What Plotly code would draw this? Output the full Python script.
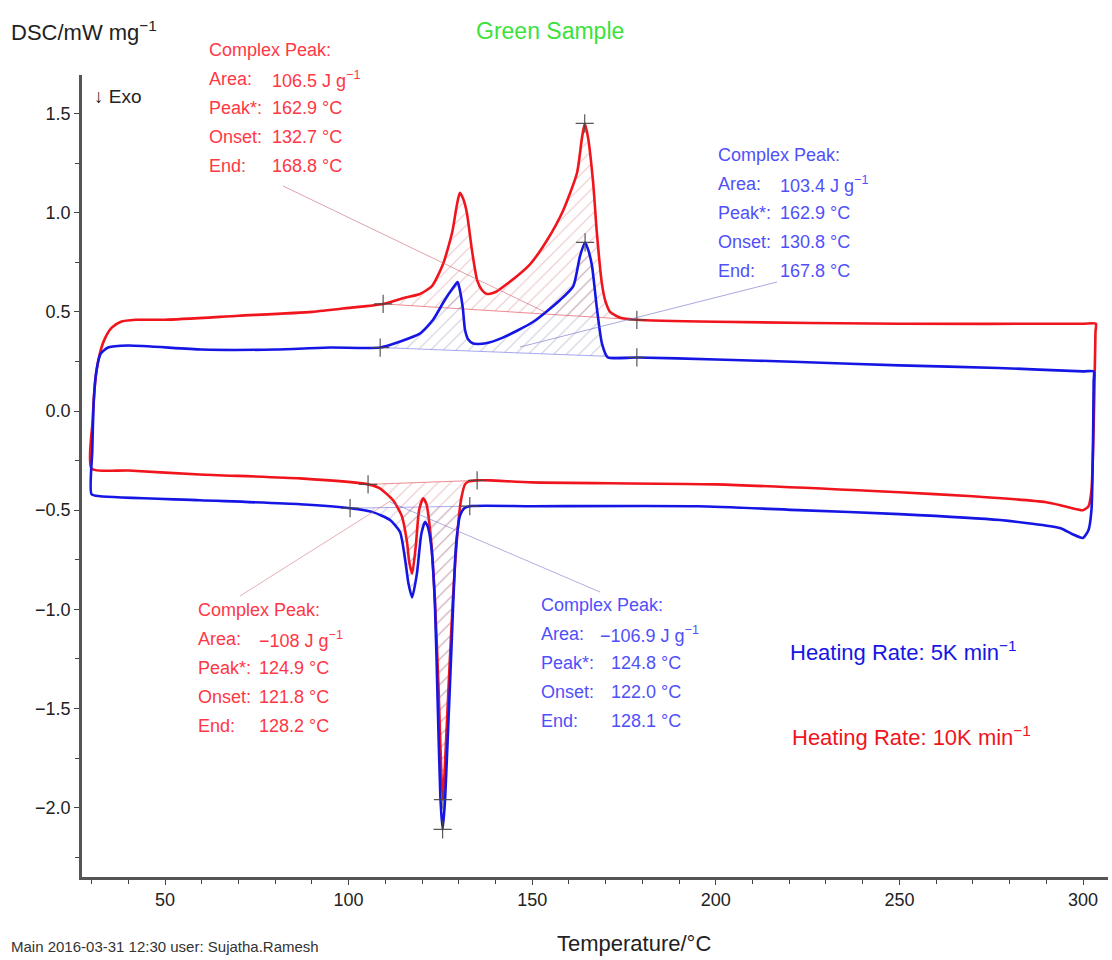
import numpy as np
import plotly.graph_objects as go

# ---------------- data ----------------
red_heat_T = [30.0, 30.3, 31.0, 32.0, 33.5, 35.5, 38.0, 42.0, 50.0, 70.0, 90.0, 100.0, 109.4, 115.0,
              119.4, 122.7, 125.7, 128.2, 129.5, 130.3, 131.2, 132.2, 133.6, 135.0, 136.3, 137.7,
              140.0, 143.1, 149.4, 154.0, 158.4, 162.2, 163.5, 164.3, 165.2, 166.6, 167.6, 169.0,
              170.0, 171.2, 174.0, 178.5, 200.0, 250.0, 300.0, 303.5]
red_heat_v = [-0.29, -0.05, 0.15, 0.27, 0.36, 0.42, 0.45, 0.46, 0.46, 0.48, 0.50, 0.52, 0.54, 0.57,
              0.59, 0.63, 0.74, 0.90, 1.04, 1.10, 1.07, 1.00, 0.81, 0.66, 0.61, 0.59,
              0.60, 0.64, 0.74, 0.86, 1.01, 1.20, 1.37, 1.45, 1.38, 1.15, 0.90, 0.64,
              0.55, 0.50, 0.47, 0.46, 0.45, 0.44, 0.44, 0.44]
red_cool_T = [303.4, 303.0, 302.3, 301.5, 300.0, 295.0, 290.0, 270.0, 250.0, 200.0, 150.0, 138.5,
              135.0, 132.8, 131.7, 130.6, 129.8, 128.4, 127.2, 126.2, 125.7, 125.2, 124.5, 123.5,
              122.3, 121.2, 120.3, 119.2, 118.3, 117.3, 116.5, 115.9, 114.5, 112.1, 108.5, 105.3,
              86.8, 59.5, 40.0, 30.0]
red_cool_v = [0.40, 0.00, -0.40, -0.48, -0.50, -0.48, -0.46, -0.43, -0.41, -0.37, -0.36, -0.35,
              -0.35, -0.355, -0.37, -0.45, -0.58, -0.95, -1.40, -1.80, -1.96, -1.80, -1.40, -0.95,
              -0.62, -0.47, -0.44, -0.50, -0.68, -0.82, -0.76, -0.66, -0.53, -0.45, -0.39, -0.37,
              -0.34, -0.32, -0.30, -0.29]

blue_heat_T = [30.0, 30.2, 30.6, 31.3, 32.5, 34.5, 40.0, 60.0, 80.0, 95.0, 108.6, 114.0, 119.4,
               123.0, 126.2, 128.4, 129.7, 130.4, 131.1, 131.7, 132.6, 133.9, 137.0, 142.0, 150.3,
               157.6, 161.2, 163.0, 164.4, 165.3, 166.3, 167.6, 169.0, 170.6, 178.5, 200.0, 223.0,
               250.0, 277.0, 300.0, 302.9]
blue_heat_v = [-0.42, -0.20, 0.05, 0.20, 0.29, 0.32, 0.33, 0.31, 0.31, 0.32, 0.32, 0.35, 0.39,
               0.46, 0.56, 0.62, 0.65, 0.60, 0.52, 0.41, 0.36, 0.34, 0.34, 0.37, 0.45,
               0.56, 0.63, 0.78, 0.85, 0.81, 0.73, 0.52, 0.34, 0.27, 0.27, 0.26, 0.247,
               0.23, 0.217, 0.20, 0.20]
blue_cool_T = [302.9, 302.7, 302.3, 301.5, 300.0, 297.0, 293.7, 277.4, 250.0, 222.6, 195.0, 150.0,
               133.0, 131.5, 130.3, 129.5, 129.0, 128.0, 127.0, 126.2, 125.6, 125.0, 124.3, 123.5,
               122.5, 121.5, 120.8, 119.8, 118.6, 117.3, 116.3, 115.4, 114.0, 111.3, 106.6, 100.4,
               86.8, 59.5, 32.3, 30.0]
blue_cool_v = [0.15, -0.20, -0.50, -0.60, -0.64, -0.62, -0.59, -0.55, -0.52, -0.50, -0.48, -0.48,
               -0.48, -0.49, -0.53, -0.63, -0.75, -1.20, -1.65, -1.98, -2.11, -1.95, -1.50, -0.97,
               -0.68, -0.58, -0.56, -0.62, -0.82, -0.94, -0.87, -0.75, -0.61, -0.55, -0.51, -0.49,
               -0.47, -0.45, -0.43, -0.42]

# evaluation limits (onset / end markers) in degC
red_heat_lim = [109.4, 178.5]
blue_heat_lim = [108.6, 178.5]
red_cool_lim = [105.3, 135.0]
blue_cool_lim = [100.4, 133.0]

# peak markers
peak_T = [164.3, 164.4, 125.7, 125.6]
peak_v = [1.45, 0.85, -1.96, -2.11]

# text blocks
block_labels = ["Complex Peak:", "Area:", "Peak*:", "Onset:", "End:"]
red_heat_vals = ["", "106.5 J g<sup>−1</sup>", "162.9 °C", "132.7 °C", "168.8 °C"]
blue_heat_vals = ["", "103.4 J g<sup>−1</sup>", "162.9 °C", "130.8 °C", "167.8 °C"]
red_cool_vals = ["", "−108 J g<sup>−1</sup>", "124.9 °C", "121.8 °C", "128.2 °C"]
blue_cool_vals = ["", "−106.9 J g<sup>−1</sup>", "124.8 °C", "122.0 °C", "128.1 °C"]

# ---------------- styling ----------------
RED = "rgb(240,20,28)"
BLUE = "rgb(22,22,228)"
RED_TXT = "rgb(255,55,70)"
BLUE_TXT = "rgb(80,80,250)"
FONT = "Liberation Sans, Arial, sans-serif"
W, H = 1112, 960
L, R, T_, B = 82, 1108, 75, 877
SM = 0.6


def px(x):
    return (x - L) / (R - L)


def py(y):
    return (B - y) / (B - T_)


fig = go.Figure()


def segment(Ts, vs, lim):
    Ts = np.asarray(Ts)
    vs = np.asarray(vs)
    m = (Ts >= lim[0] - 1e-9) & (Ts <= lim[1] + 1e-9)
    return Ts[m], vs[m]


def add_hatch(Ts, vs, lim, fg, line_col):
    sT, sv = segment(Ts, vs, lim)
    bT = [sT[0], sT[-1]]
    bv = [sv[0], sv[-1]]
    fig.add_trace(go.Scatter(x=bT, y=bv, mode="lines", line=dict(color=line_col, width=1),
                             showlegend=False, hoverinfo="skip"))
    fig.add_trace(go.Scatter(x=sT, y=sv, mode="lines",
                             line=dict(width=0, shape="spline", smoothing=SM),
                             fill="tonexty", fillcolor="rgba(0,0,0,0)",
                             fillpattern=dict(shape="/", fgcolor=fg, bgcolor="rgba(0,0,0,0)",
                                              size=9, solidity=0.12, fillmode="overlay"),
                             showlegend=False, hoverinfo="skip"))


RED_HATCH = "rgba(205,110,120,0.8)"
BLUE_HATCH = "rgba(120,120,160,0.75)"
add_hatch(red_heat_T, red_heat_v, red_heat_lim, RED_HATCH, "rgba(230,90,100,0.7)")
add_hatch(blue_heat_T, blue_heat_v, blue_heat_lim, BLUE_HATCH, "rgba(110,110,230,0.6)")
add_hatch(blue_cool_T, blue_cool_v, blue_cool_lim, BLUE_HATCH, "rgba(110,110,230,0.6)")
add_hatch(red_cool_T, red_cool_v, red_cool_lim, RED_HATCH, "rgba(230,90,100,0.7)")

# main curves (closed heating/cooling loops)
fig.add_trace(go.Scatter(x=red_heat_T + red_cool_T, y=red_heat_v + red_cool_v, mode="lines",
                         line=dict(color=RED, width=2.6, shape="spline", smoothing=SM),
                         showlegend=False))
fig.add_trace(go.Scatter(x=blue_heat_T + blue_cool_T, y=blue_heat_v + blue_cool_v, mode="lines",
                         line=dict(color=BLUE, width=2.6, shape="spline", smoothing=SM),
                         showlegend=False))

# onset / end / peak markers
mk_T, mk_v = [], []
for Ts, vs, lim in [(red_heat_T, red_heat_v, red_heat_lim), (blue_heat_T, blue_heat_v, blue_heat_lim),
                    (red_cool_T, red_cool_v, red_cool_lim), (blue_cool_T, blue_cool_v, blue_cool_lim)]:
    sT, sv = segment(Ts, vs, lim)
    mk_T += [sT[0], sT[-1]]
    mk_v += [sv[0], sv[-1]]
mk_T += peak_T
mk_v += peak_v
fig.add_trace(go.Scatter(x=mk_T, y=mk_v, mode="markers",
                         marker=dict(symbol="cross-thin", size=13,
                                     line=dict(color="rgba(70,70,70,0.9)", width=1.2)),
                         showlegend=False, hoverinfo="skip"))

# leader lines (pixel positions)
leaders = [((283, 186), (545, 312), "rgba(200,100,110,0.6)"),
           ((777, 282), (520, 347), "rgba(110,110,200,0.6)"),
           ((240, 596), (392, 500), "rgba(210,110,120,0.55)"),
           ((600, 592), (390, 502), "rgba(110,110,200,0.55)")]
shapes = []
for (x0, y0), (x1, y1), c in leaders:
    shapes.append(dict(type="line", xref="paper", yref="paper", x0=px(x0), y0=py(y0),
                       x1=px(x1), y1=py(y1), line=dict(color=c, width=1)))

ann = []


def txt(x, y, s, color, size=18, anchor="left"):
    ann.append(dict(xref="paper", yref="paper", x=px(x), y=py(y), text=s, showarrow=False,
                    xanchor=anchor, yanchor="middle", font=dict(family=FONT, size=size, color=color)))


def block(x_lab, x_val, y0, vals, color, val_offsets=None):
    for i, (lab, val) in enumerate(zip(block_labels, vals)):
        y = y0 + 29 * i
        txt(x_lab, y, lab, color)
        if val:
            xv = x_val if val_offsets is None else x_val + val_offsets[i]
            txt(xv, y, val, color)


block(207, 270, 50, red_heat_vals, RED_TXT)
block(716, 778, 155, blue_heat_vals, BLUE_TXT)
block(196, 257, 610, red_cool_vals, RED_TXT)
block(539, 609, 605, blue_cool_vals, BLUE_TXT, val_offsets=[0, -11, 0, 0, 0])

txt(9, 31, "DSC/mW mg<sup>−1</sup>", "#222", size=22)
txt(550, 31, "Green Sample", "rgb(60,225,60)", size=23, anchor="center")
txt(92, 97, "↓ Exo", "#222", size=19)
txt(634, 943, "Temperature/°C", "#222", size=22, anchor="center")
txt(9, 946, "Main 2016-03-31 12:30 user: Sujatha.Ramesh", "#333", size=15)
txt(788, 651, "Heating Rate: 5K min<sup>−1</sup>", BLUE, size=22)
txt(790, 736, "Heating Rate: 10K min<sup>−1</sup>", RED, size=22)

x_lo = 50 - (165 - L) / 3.672
x_hi = 50 + (R - 165) / 3.672
y_lo = -(B - 411) / 198.3
y_hi = (411 - T_) / 198.3

fig.update_layout(
    width=W, height=H, margin=dict(l=L, r=W - R, t=T_, b=H - B),
    paper_bgcolor="white", plot_bgcolor="white",
    font=dict(family=FONT, size=18, color="#222"),
    shapes=shapes, annotations=ann, showlegend=False,
    xaxis=dict(range=[x_lo, x_hi], tickmode="linear", tick0=50, dtick=50,
               showgrid=False, zeroline=False, showline=True, linecolor="#555", linewidth=2.5,
               ticks="outside", ticklen=5, tickwidth=1.2, tickcolor="#444",
               tickfont=dict(size=18, color="#222"),
               minor=dict(dtick=10, tick0=0, ticks="outside", ticklen=4, tickcolor="#444", showgrid=False)),
    yaxis=dict(range=[y_lo, y_hi], tickmode="linear", tick0=0, dtick=0.5, tickformat=".1f",
               showgrid=False, zeroline=False, showline=True, linecolor="#555", linewidth=2.5,
               ticks="outside", ticklen=5, tickwidth=1.2, tickcolor="#444",
               tickfont=dict(size=18, color="#222"),
               minor=dict(dtick=0.25, tick0=0, ticks="outside", ticklen=4, tickcolor="#444", showgrid=False)),
)

fig.write_html("out.html")
